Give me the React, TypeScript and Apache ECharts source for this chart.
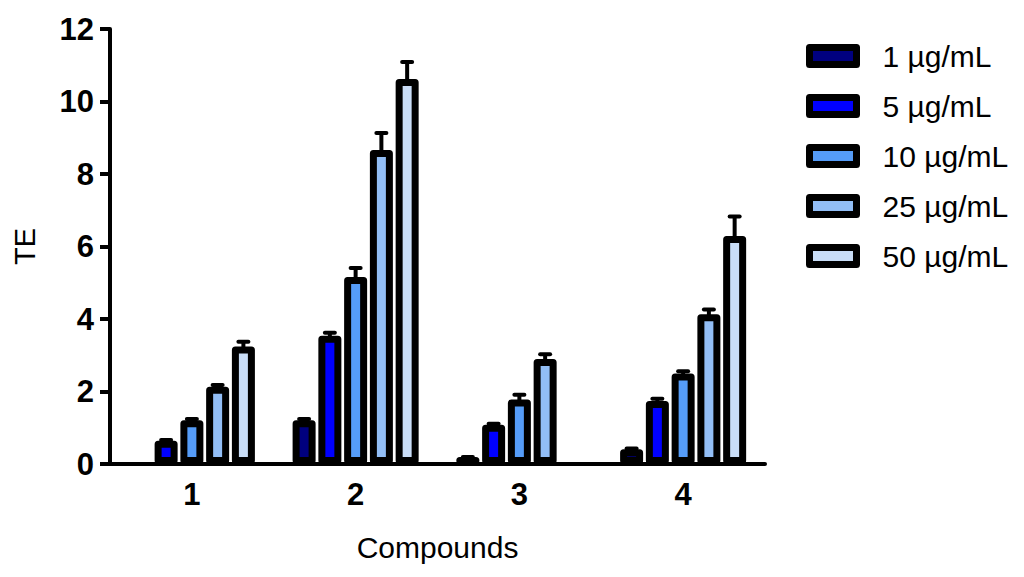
import React, { useEffect, useRef } from "react";
import * as echarts from "echarts";

const categories = ["1", "2", "3", "4"];
const doseNames = ["1 µg/mL", "5 µg/mL", "10 µg/mL", "25 µg/mL", "50 µg/mL"];
const doseColors = ["#00007F", "#0000FF", "#559CF8", "#92BEF6", "#C9DDF7"];

// values per dose, per compound ('-' = no bar)
const dose1 = ["-", 1.21, 0.19, 0.41];
const dose5 = [0.64, 3.54, 1.08, 1.74];
const dose10 = [1.21, 5.16, 1.78, 2.5];
const dose25 = [2.13, 8.66, 2.9, 4.13];
const dose50 = [3.24, 10.62, "-", 6.29];

// upper SEM
const err1 = [0, 0.03, 0, 0.02];
const err5 = [0.02, 0.08, 0.03, 0.06];
const err10 = [0.03, 0.25, 0.13, 0.06];
const err25 = [0.05, 0.47, 0.13, 0.13];
const err50 = [0.13, 0.47, 0, 0.54];

const yTicks = [0, 2, 4, 6, 8, 10, 12];

export default function App() {
  const ref = useRef<HTMLDivElement>(null);

  useEffect(() => {
    if (!ref.current) return;
    const chart = echarts.init(ref.current, null, { renderer: "svg" });
    const values = [dose1, dose5, dose10, dose25, dose50];
    const errs = [err1, err5, err10, err25, err50];
    const barWidth = 23;
    const gapRatio = 0.12;
    const pitch = barWidth * (1 + gapRatio);

    const barSeries = values.map((v, i) => ({
      name: doseNames[i],
      type: "bar",
      data: v,
      barWidth,
      barGap: gapRatio * 100 + "%",
      z: 3,
      itemStyle: {
        color: doseColors[i],
        borderColor: "#000",
        borderWidth: 7,
        borderJoin: "round",
      },
    }));

    const errSeries = values.map((v, i) => ({
      type: "custom",
      z: 2,
      silent: true,
      data: v
        .map((val, c) => (val === "-" ? null : [c, val, errs[i][c]]))
        .filter((d) => d !== null),
      renderItem: (params: any, api: any) => {
        const c = api.value(0);
        const val = api.value(1);
        const e = api.value(2);
        const base = api.coord([c, val]);
        const top = api.coord([c, val + e]);
        const x = base[0] + (i - 2) * pitch;
        return {
          type: "group",
          children: [
            {
              type: "line",
              shape: { x1: x, y1: base[1] + 4, x2: x, y2: top[1] },
              style: { stroke: "#000", lineWidth: 4 },
            },
            {
              type: "line",
              shape: { x1: x - 5, y1: top[1], x2: x + 5, y2: top[1] },
              style: { stroke: "#000", lineWidth: 4, lineCap: "round" },
            },
          ],
        };
      },
    }));

    chart.setOption({
      animation: false,
      backgroundColor: "#fff",
      grid: { left: 110, top: 29, right: 259, bottom: 113, containLabel: false },
      legend: {
        orient: "vertical",
        left: 801,
        top: 36,
        itemWidth: 47,
        itemHeight: 17,
        itemGap: 20,
        icon: "rect",
        selectedMode: false,
        data: doseNames,
        itemStyle: { borderColor: "#000", borderWidth: 7, borderJoin: "round" },
        textStyle: {
          fontFamily: "Liberation Sans, Arial",
          fontSize: 30,
          color: "#000",
          lineHeight: 24,
          padding: [0, 0, 0, 21],
        },
      },
      xAxis: {
        type: "category",
        data: categories,
        name: "Compounds",
        nameLocation: "middle",
        nameGap: 68,
        nameTextStyle: { fontFamily: "Liberation Sans, Arial", fontSize: 30, color: "#000" },
        axisLine: { lineStyle: { color: "#000", width: 4 } },
        axisTick: { alignWithLabel: true, length: 11, lineStyle: { color: "#000", width: 4 } },
        axisLabel: {
          fontFamily: "Liberation Sans, Arial",
          fontWeight: "bold",
          fontSize: 31,
          color: "#000",
          margin: 15,
        },
      },
      yAxis: {
        type: "value",
        min: 0,
        max: 12,
        interval: 2,
        name: "TE",
        nameLocation: "middle",
        nameGap: 71,
        nameRotate: 90,
        nameTextStyle: { fontFamily: "Liberation Sans, Arial", fontSize: 29, color: "#000" },
        splitLine: { show: false },
        axisLine: { show: true, lineStyle: { color: "#000", width: 4 } },
        axisTick: { show: true, length: 10, lineStyle: { color: "#000", width: 4 } },
        axisLabel: {
          fontFamily: "Liberation Sans, Arial",
          fontWeight: "bold",
          fontSize: 31,
          color: "#000",
          margin: 16,
          formatter: (v: number) => (yTicks.includes(v) ? String(v) : ""),
        },
      },
      series: [...barSeries, ...errSeries],
    });
    return () => chart.dispose();
  }, []);

  return <div ref={ref} style={{ width: 1024, height: 577, position: "absolute", left: 0, top: 0 }} />;
}
